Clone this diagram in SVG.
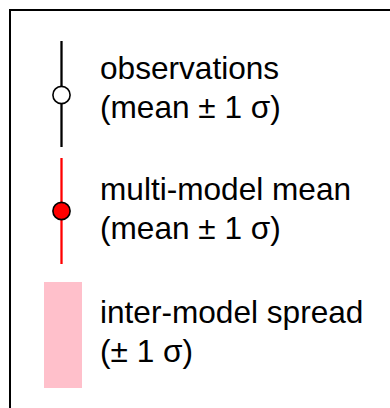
<svg xmlns="http://www.w3.org/2000/svg" width="390" height="408" viewBox="0 0 390 408">
<style>
.lbl{font-family:"Liberation Sans",Arial,sans-serif;font-size:31.6px;fill:#000}
.marker{stroke-width:1.6}
</style>
<rect width="390" height="408" fill="#fff"/>
<path d="M10,408 V10 H390" fill="none" stroke="#000" stroke-width="2"/>
<g id="obs">
<line x1="61.5" y1="41" x2="61.5" y2="147" stroke="#000" stroke-width="2.3"/>
<circle cx="61.5" cy="95" r="8.6" fill="#fff" stroke="#000" class="marker"/>
<text class="lbl" x="100" y="79">observations</text>
<text class="lbl" x="100" y="118">(mean ± 1 σ)</text>
</g>
<g id="mmm">
<line x1="61.5" y1="158" x2="61.5" y2="264" stroke="#f00" stroke-width="2.3"/>
<circle cx="61.5" cy="211" r="8.6" fill="#f00" stroke="#000" class="marker"/>
<text class="lbl" x="100" y="200">multi-model mean</text>
<text class="lbl" x="100" y="239">(mean ± 1 σ)</text>
</g>
<g id="spread">
<rect x="44" y="282" width="38" height="106" fill="#ffc0cb"/>
<text class="lbl" x="100" y="323">inter-model spread</text>
<text class="lbl" x="100" y="362">(± 1 σ)</text>
</g>
<g id="connectors"/>
</svg>
